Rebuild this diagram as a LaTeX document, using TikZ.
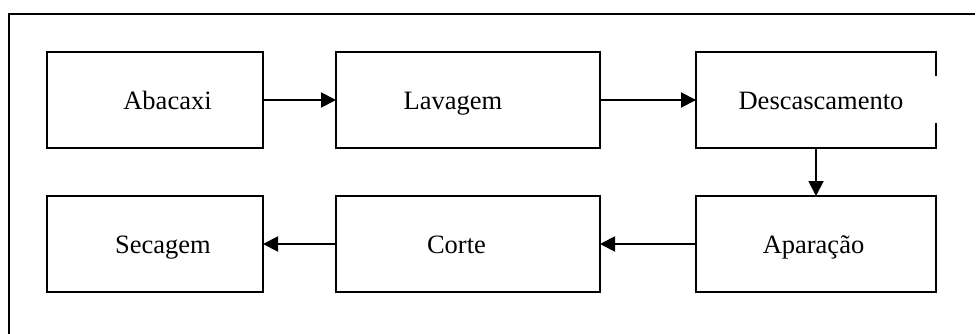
\documentclass[tikz,border=0pt]{standalone}
\usepackage{fontspec}
\setmainfont{Liberation Serif}
\usetikzlibrary{arrows.meta}
\begin{document}
\begin{tikzpicture}[x=1pt,y=-1pt,
  stepbox/.style={draw,rectangle,line width=1.9pt,inner sep=0pt,outer sep=0pt},
  stepframe/.style={rectangle,inner sep=0pt,outer sep=0pt},
  steplabel/.style={anchor=base,inner sep=0pt,font=\fontsize{26.5}{31}\selectfont},
  flow/.style={line width=1.9pt,-{Triangle[length=15pt,width=15pt]}}]
\useasboundingbox (0,0) rectangle (976,334);
% open outer frame
\draw[line width=2pt] (9,335) -- (9,14) -- (975,14);
% process steps
\node[stepbox,minimum width=216pt,minimum height=96pt] (abacaxi) at (155,100) {};
\node[stepbox,minimum width=264pt,minimum height=96pt] (lavagem) at (468,100) {};
\node[stepframe,minimum width=240pt,minimum height=96pt] (descasc) at (816,100) {};
\draw[line width=1.9pt] ([yshift=24pt]descasc.east) -- (descasc.north east) -- (descasc.north west)
  -- (descasc.south west) -- (descasc.south east) -- ([yshift=-23pt]descasc.east);
\node[stepbox,minimum width=216pt,minimum height=96pt] (secagem) at (155,244) {};
\node[stepbox,minimum width=264pt,minimum height=96pt] (corte) at (468,244) {};
\node[stepbox,minimum width=240pt,minimum height=96pt] (aparacao) at (816,244) {};
% labels
\node[steplabel] (tabacaxi) at (167.5,110) {Abacaxi};
\node[steplabel] (tlavagem) at (453,110) {Lavagem};
\node[steplabel] (tdescasc) at (821,110) {Descascamento};
\node[steplabel] (tsecagem) at (163,253) {Secagem};
\node[steplabel] (tcorte) at (456.5,253) {Corte};
\node[steplabel] (taparacao) at (813.5,253) {Aparação};
% connectors
\draw[flow] (abacaxi.east) -- (lavagem.west);
\draw[flow] (lavagem.east) -- (descasc.west);
\draw[flow] (descasc.south) -- (aparacao.north);
\draw[flow] (aparacao.west) -- (corte.east);
\draw[flow] (corte.west) -- (secagem.east);
\end{tikzpicture}
\end{document}
